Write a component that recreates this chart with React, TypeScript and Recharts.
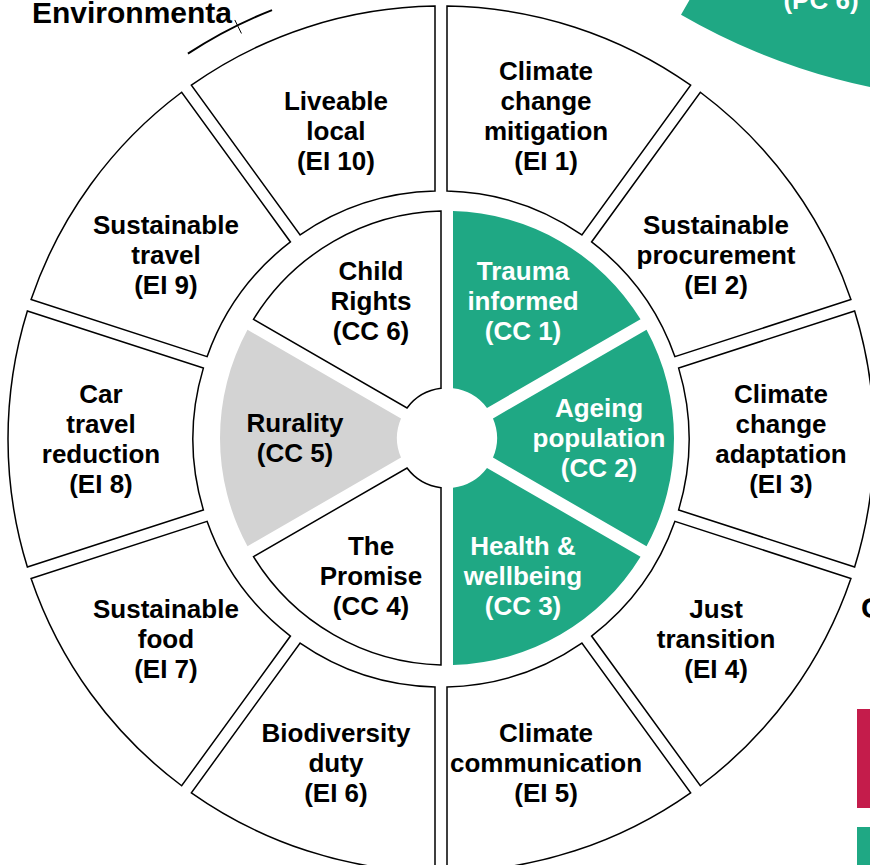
import React from 'react';
import { PieChart, Pie, Cell } from 'recharts';

const RAD = Math.PI / 180;
const GREEN = '#1fa884';
const GREY = '#d3d3d3';
const FONT = '"Liberation Sans", Arial, Helvetica, sans-serif';

// outer ring: environmental impacts (EI 1..10), equal slices
const outerLines = [
  ['Climate', 'change', 'mitigation', '(EI 1)'],
  ['Sustainable', 'procurement', '(EI 2)'],
  ['Climate', 'change', 'adaptation', '(EI 3)'],
  ['Just', 'transition', '(EI 4)'],
  ['Climate', 'communication', '(EI 5)'],
  ['Biodiversity', 'duty', '(EI 6)'],
  ['Sustainable', 'food', '(EI 7)'],
  ['Car', 'travel', 'reduction', '(EI 8)'],
  ['Sustainable', 'travel', '(EI 9)'],
  ['Liveable', 'local', '(EI 10)'],
];
const outerValues = [1, 1, 1, 1, 1, 1, 1, 1, 1, 1];

// inner ring: cross-cutting themes (CC 1..6)
const innerLines = [
  ['Trauma', 'informed', '(CC 1)'],
  ['Ageing', 'population', '(CC 2)'],
  ['Health &', 'wellbeing', '(CC 3)'],
  ['The', 'Promise', '(CC 4)'],
  ['Rurality', '(CC 5)'],
  ['Child', 'Rights', '(CC 6)'],
];
const innerValues = [1, 1, 1, 1, 1, 1];
const innerFills = [GREEN, GREEN, GREEN, '#ffffff', GREY, '#ffffff'];
const innerStrokes = ['none', 'none', 'none', '#000', 'none', '#000'];
const innerText = ['#fff', '#fff', '#fff', '#000', '#000', '#000'];

// piece of the neighbouring wheel peeking in at the top right
const neighbourValues = [1];

const outerData = outerValues.map((v, i) => ({ name: outerLines[i].join(' '), value: v }));
const innerData = innerValues.map((v, i) => ({ name: innerLines[i].join(' '), value: v }));
const neighbourData = neighbourValues.map((v) => ({ name: 'PC 6', value: v }));

const GAP = 12;
const FS = 26;
const LH = 30;

// sector with parallel-sided gaps instead of angular padding
function gapShape(props: any) {
  const { cx, cy, innerRadius, outerRadius, startAngle, endAngle, fill, stroke, strokeWidth } = props;
  const h = GAP / 2;
  const pt = (r: number, a: number) => `${cx + r * Math.cos(-a * RAD)},${cy + r * Math.sin(-a * RAD)}`;
  const dOut = Math.asin(h / outerRadius) / RAD;
  const dIn = Math.asin(Math.min(1, h / innerRadius)) / RAD;
  const oS = startAngle - dOut;
  const oE = endAngle + dOut;
  const iS = startAngle - dIn;
  const iE = endAngle + dIn;
  const d = `M${pt(outerRadius, oS)} A${outerRadius},${outerRadius} 0 0 1 ${pt(outerRadius, oE)} L${pt(innerRadius, iE)} A${innerRadius},${innerRadius} 0 0 0 ${pt(innerRadius, iS)} Z`;
  return <path d={d} fill={fill} stroke={stroke} strokeWidth={strokeWidth} />;
}

// multi-line label at the slice's mid angle; upper-half labels hang from a
// shared bottom line (as if they all had `hang` lines)
const makeLabel = (lines: string[][], rx: number, ry: number, colors: string[] | null, hang: number) => (props: any) => {
  const { cx, cy, midAngle, index } = props;
  const s = Math.sin(midAngle * RAD);
  const x = cx + rx * Math.cos(midAngle * RAD);
  let y = cy - ry * s;
  const ls = lines[index];
  if (hang && s > 0.1) y += ((hang - ls.length) * LH) / 2;
  const y0 = y - ((ls.length - 1) * LH) / 2 + FS * 0.36;
  return (
    <text
      x={x}
      y={y0}
      textAnchor="middle"
      fontFamily={FONT}
      fontWeight="bold"
      fontSize={FS}
      fill={colors ? colors[index] : '#000'}
    >
      {ls.map((l, i) => (
        <tspan key={i} x={x} dy={i === 0 ? 0 : LH}>
          {l}
        </tspan>
      ))}
    </text>
  );
};

function arcPath(cx: number, cy: number, r: number, a1: number, a2: number) {
  const p = (a: number) => `${cx + r * Math.cos(-a * RAD)},${cy + r * Math.sin(-a * RAD)}`;
  return `M${p(a2)} A${r},${r} 0 0 1 ${p(a1)}`;
}

export default function App() {
  const ocx = 441;
  const ocy = 439;
  const tickA = 116.2;
  return (
    <div style={{ position: 'absolute', left: 0, top: 0, width: 870, height: 865, overflow: 'hidden', background: '#fff' }}>
      <PieChart width={870} height={865} margin={{ top: 0, right: 0, bottom: 0, left: 0 }}>
        <Pie
          data={neighbourData}
          dataKey="value"
          cx={1003}
          cy={-543}
          innerRadius={420}
          outerRadius={644}
          startAngle={240}
          endAngle={300}
          stroke="none"
          isAnimationActive={false}
        >
          {neighbourData.map((_, i) => (
            <Cell key={i} fill={GREEN} />
          ))}
        </Pie>
        <Pie
          data={outerData}
          dataKey="value"
          cx={ocx}
          cy={ocy}
          innerRadius={248}
          outerRadius={433}
          startAngle={90}
          endAngle={-270}
          paddingAngle={0}
          shape={gapShape}
          label={makeLabel(outerLines, 340, 340, null, 4)}
          labelLine={false}
          isAnimationActive={false}
        >
          {outerData.map((_, i) => (
            <Cell key={i} fill="#ffffff" stroke="#000" strokeWidth={1.5} />
          ))}
        </Pie>
        <Pie
          data={innerData}
          dataKey="value"
          cx={447}
          cy={438}
          innerRadius={50}
          outerRadius={227}
          startAngle={90}
          endAngle={-270}
          paddingAngle={0}
          shape={gapShape}
          label={makeLabel(innerLines, 152, 159, innerText, 0)}
          labelLine={false}
          isAnimationActive={false}
        >
          {innerData.map((_, i) => (
            <Cell key={i} fill={innerFills[i]} stroke={innerStrokes[i]} strokeWidth={1.5} />
          ))}
        </Pie>
      </PieChart>
      <svg width={870} height={865} style={{ position: 'absolute', left: 0, top: 0, pointerEvents: 'none' }}>
        <text x={32} y={23} fontFamily={FONT} fontWeight="bold" fontSize={30} fill="#000">
          Environmenta
        </text>
        <path d={arcPath(ocx, ocy, 461, 111.5, 123.3)} fill="none" stroke="#000" strokeWidth={2} />
        <line
          x1={ocx + 452 * Math.cos(tickA * RAD)}
          y1={ocy - 452 * Math.sin(tickA * RAD)}
          x2={ocx + 467 * Math.cos(tickA * RAD)}
          y2={ocy - 467 * Math.sin(tickA * RAD)}
          stroke="#000"
          strokeWidth={1}
        />
        <text x={821} y={9} textAnchor="middle" fontFamily={FONT} fontWeight="bold" fontSize={26} fill="#fff">
          (PC 6)
        </text>
        <text x={861} y={618} fontFamily={FONT} fontWeight="bold" fontSize={30} fill="#000">
          C
        </text>
        <rect x={857} y={709} width={20} height={99} fill="#c41c4b" />
        <rect x={857} y={827} width={20} height={45} fill={GREEN} />
      </svg>
    </div>
  );
}
